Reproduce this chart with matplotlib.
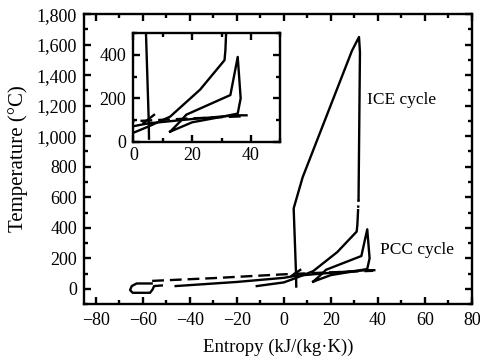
import matplotlib.pyplot as plt
from matplotlib.ticker import MultipleLocator, FuncFormatter

plt.rcParams['font.family'] = ['Liberation Serif', 'DejaVu Serif']

# ICE cycle, main loop (entropy kJ/(kg K), temperature C)
ice_s = [5.3, 5.2, 4.2, 8.0, 29.0, 32.0, 32.4, 31.8]
ice_t = [15, 100, 527, 730, 1560, 1650, 1550, 585]
ice_s2 = [31.6, 31.3, 31.0, 22.7, 12.5, 5.0, 0.0, -11.5]
ice_t2 = [515, 420, 375, 240, 116, 70, 42, 18]
ice_gap_s = [31.8, 31.6]
ice_gap_t = [585, 515]
spike_s = [3.4, 7.0]
spike_t = [86, 124]

# small loop at the far left
loop_s = [-51.9, -55.2, -55.8, -56.9, -64.3, -65.4, -64.7, -62.6, -56.2]
loop_t = [22, 18, -4, -26, -26, -8, 18, 35, 35]

# dashed and solid low-temperature lines
dash_s = [-56, -30, 0, 20, 38]
dash_t = [52, 70, 95, 108, 118]
low_s = [-46, -20, 0, 5, 20, 35, 38.5]
low_t = [18, 45, 72, 85, 105, 122, 122]

# PCC cycle
pcc_s = [12.5, 16.0, 18.0, 23.0, 33.0, 35.5, 36.5, 35.5, 30.0, 20.0, 12.5]
pcc_t = [47, 95, 125, 155, 215, 390, 200, 130, 115, 90, 47]


def draw(ax):
    kw = dict(color='black', lw=1.7, solid_joinstyle='round')
    ax.plot(ice_s, ice_t, **kw)
    ax.plot(ice_s2, ice_t2, **kw)
    ax.plot(ice_gap_s, ice_gap_t, color='black', lw=1.7, linestyle=(0, (1, 1.5)))
    ax.plot(spike_s, spike_t, **kw)
    ax.plot(loop_s, loop_t, **kw)
    ax.plot(dash_s, dash_t, color='black', lw=1.7, linestyle=(0, (5, 2.5)))
    ax.plot(low_s, low_t, **kw)
    ax.plot(pcc_s, pcc_t, **kw)


def style(ax, lw):
    for sp in ax.spines.values():
        sp.set_linewidth(lw)
    ax.tick_params(which='both', direction='in', top=True, right=True, width=lw)
    ax.tick_params(which='major', length=5)
    ax.tick_params(which='minor', length=3)
    ax.tick_params(labelsize=13)
    ax.tick_params(axis='x', pad=6)
    ax.tick_params(axis='y', pad=5)


fig = plt.figure(figsize=(4.8, 3.62), dpi=100)
ax = fig.add_axes([0.175, 0.160, 0.808, 0.801])
draw(ax)
ax.set_xlim(-85, 80)
ax.set_ylim(-100, 1800)
ax.xaxis.set_major_locator(MultipleLocator(20))
ax.xaxis.set_minor_locator(MultipleLocator(10))
ax.yaxis.set_major_locator(MultipleLocator(200))
ax.yaxis.set_minor_locator(MultipleLocator(100))
ax.yaxis.set_major_formatter(FuncFormatter(lambda v, p: '{:,.0f}'.format(v)))
style(ax, 1.7)
ax.set_xlabel('Entropy (kJ/(kg\u00b7K))', fontsize=13.5, labelpad=7)
ax.set_ylabel('Temperature (\u00b0C)', fontsize=15, labelpad=6)
ax.text(35.4, 1237, 'ICE cycle', fontsize=12.5, va='center')
ax.text(41, 253, 'PCC cycle', fontsize=12.5, va='center')

ins = fig.add_axes([0.278, 0.608, 0.306, 0.301])
draw(ins)
ins.set_xlim(0, 50)
ins.set_ylim(0, 500)
ins.xaxis.set_major_locator(MultipleLocator(20))
ins.xaxis.set_minor_locator(MultipleLocator(10))
ins.yaxis.set_major_locator(MultipleLocator(200))
ins.yaxis.set_minor_locator(MultipleLocator(100))
style(ins, 1.7)
ins.tick_params(axis='x', pad=4)

fig.savefig('out.png', dpi=100)
